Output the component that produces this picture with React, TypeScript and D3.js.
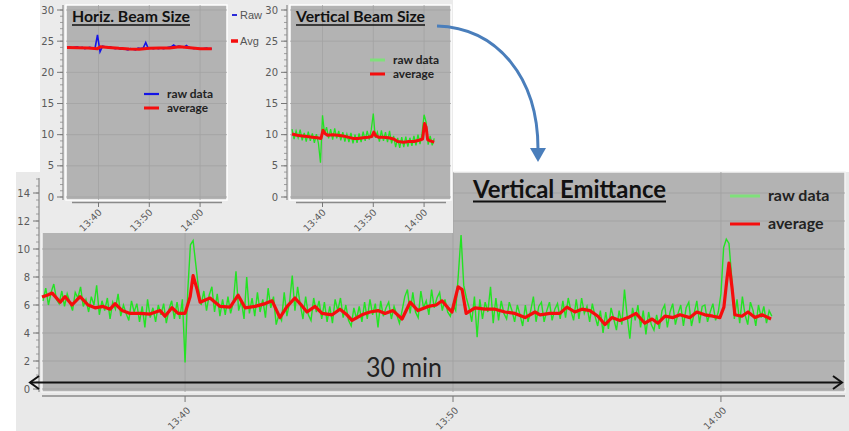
import React, { useEffect, useRef } from "react";
import * as d3 from "d3";

// times are minutes after 13:00
const timeTicks = [40, 50, 60];
const timeTickLabels = ["13:40", "13:50", "14:00"];
const emitYTicks = [0, 2, 4, 6, 8, 10, 12, 14];
const beamYTicks = [0, 5, 10, 15, 20, 25, 30];

// vertical emittance, raw samples every 0.1 min from 13:34.7
const emitRawStart = 34.7;
const emitRawStep = 0.1;
const emitRaw = [
  6.3, 7.2, 6.0, 6.9, 7.5, 6.4, 6.1, 7.0, 5.9, 6.8,
  6.2, 5.6, 6.9, 6.5, 7.3, 5.9, 6.4, 5.5, 6.6, 6.0,
  7.4, 5.3, 6.3, 5.6, 6.5, 5.0, 6.2, 5.7, 6.8, 5.2,
  6.0, 5.4, 4.9, 6.3, 5.5, 6.1, 4.8, 5.9, 4.4, 6.4,
  5.1, 5.8, 4.8, 6.0, 5.3, 6.1, 4.7, 5.7, 6.3, 5.0,
  6.2, 5.0, 6.4, 1.9, 7.0, 10.3, 10.6, 8.9, 7.2, 6.0,
  7.0, 5.6, 6.7, 7.3, 5.5, 6.8, 5.2, 6.4, 5.3, 6.6,
  5.4, 6.2, 8.4, 5.6, 6.3, 5.0, 8.0, 5.4, 6.5, 5.2,
  6.9, 5.5, 6.4, 5.1, 7.2, 5.8, 6.6, 4.6, 5.3, 4.9,
  6.9, 5.2, 6.2, 8.1, 5.6, 7.3, 6.0, 5.0, 6.6, 5.3,
  4.9, 6.5, 5.5, 6.3, 5.0, 6.2, 4.8, 5.9, 4.7, 6.4,
  5.6, 6.5, 5.1, 6.0, 4.9, 4.5, 5.8, 5.0, 5.9, 4.8,
  6.2, 5.0, 6.4, 5.3, 6.1, 4.4, 6.3, 5.2, 5.8, 6.2,
  5.0, 5.9, 5.3, 4.7, 5.6, 6.6, 7.1, 5.4, 6.9, 5.5,
  5.1, 7.0, 5.8, 6.3, 5.3, 7.1, 5.8, 6.5, 6.9, 5.6,
  6.4, 5.5, 5.2, 6.0, 5.6, 8.2, 11.0, 7.4, 6.5, 5.8,
  4.8, 6.6, 3.7, 6.4, 5.0, 6.2, 5.5, 7.3, 4.7, 6.5,
  4.9, 6.3, 5.4, 5.0, 6.2, 5.6, 4.8, 6.0, 5.3, 4.5,
  6.0, 4.8, 5.6, 6.6, 4.8, 5.9, 6.2, 4.8, 5.6, 6.2,
  4.9, 5.7, 6.1, 5.0, 6.3, 5.1, 6.5, 5.6, 4.9, 6.4,
  5.0, 6.5, 5.4, 5.9, 4.8, 6.1, 5.2, 4.5, 5.6, 4.0,
  5.5, 4.3, 5.8, 5.0, 4.2, 5.6, 4.6, 7.1, 5.2, 3.6,
  5.8, 4.9, 6.0, 4.4, 5.6, 3.9, 5.5, 4.6, 4.2, 5.3,
  4.3, 5.6, 6.0, 4.4, 5.5, 6.1, 4.6, 5.4, 6.0, 4.5,
  5.8, 6.2, 4.5, 5.4, 6.3, 4.7, 5.9, 6.0, 4.8, 5.5,
  6.1, 4.9, 5.5, 6.8, 10.1, 10.7, 10.4, 8.0, 5.0, 6.4,
  4.7, 6.6, 5.3, 4.6, 6.2, 5.6, 4.5, 6.0, 5.1, 5.9,
  4.7, 5.6, 5.2,
];

const emitAvgTimes = [
  34.66, 34.85, 35.04, 35.34, 35.52, 35.78, 36.08, 36.38, 36.64, 36.94,
  37.2, 37.39, 37.65, 37.95, 38.32, 38.69, 39.07, 39.25, 39.51, 39.74,
  40.0, 40.19, 40.3, 40.45, 40.56, 40.93, 41.31, 41.68, 41.98, 42.24,
  42.61, 42.99, 43.25, 43.54, 43.81, 44.1, 44.29, 44.55, 44.85, 45.11,
  45.49, 45.78, 46.04, 46.23, 46.6, 46.9, 47.2, 47.46, 47.76, 48.1,
  48.4, 48.69, 49.07, 49.37, 49.59, 49.81, 49.96, 50.19, 50.34, 50.49,
  50.82, 51.19, 51.57, 51.94, 52.31, 52.69, 53.06, 53.25, 53.62, 53.99,
  54.25, 54.55, 54.81, 55.11, 55.41, 55.67, 55.93, 56.23, 56.53, 56.83,
  57.16, 57.43, 57.65, 57.91, 58.21, 58.47, 58.84, 59.1, 59.4, 59.7,
  59.96, 60.11, 60.22, 60.3, 60.41, 60.52, 60.78, 61.01, 61.27, 61.53,
  61.87,
];
const emitAvg = [
  6.57, 6.7, 6.85, 6.2, 6.6, 6.0, 6.6, 6.0, 5.8, 5.9,
  5.7, 6.1, 5.6, 5.4, 5.4, 5.35, 5.6, 5.2, 5.8, 5.4,
  5.4, 6.6, 8.1, 7.1, 6.2, 6.5, 5.9, 5.85, 6.7, 5.8,
  5.9, 6.1, 6.3, 5.1, 5.9, 6.5, 6.1, 5.5, 5.9, 5.4,
  5.3, 5.7, 5.3, 4.9, 5.3, 5.5, 5.6, 5.4, 5.6, 5.0,
  6.2, 5.6, 5.9, 6.0, 6.3, 5.8, 5.5, 7.3, 7.1, 5.4,
  5.8, 5.7, 5.7, 5.5, 5.4, 5.1, 5.5, 5.3, 5.4, 5.4,
  5.85, 5.5, 5.7, 5.6, 5.2, 4.6, 5.1, 4.9, 5.1, 5.4,
  4.7, 5.0, 4.7, 5.2, 5.1, 5.3, 5.1, 5.5, 5.3, 5.2,
  5.1, 5.85, 7.8, 9.0, 7.3, 5.3, 5.2, 5.5, 5.1, 5.3,
  5.0,
];

// horizontal beam size, raw every 0.5 min from 13:33.8
const horizRawStart = 33.8;
const horizRawStep = 0.5;
const horizRaw = [
  24.0, 24.1, 23.9, 24.0, 24.1, 23.9, 24.0, 23.8, 23.9, 24.0,
  23.9, 23.8, 26.0, 23.3, 24.2, 24.1, 24.0, 24.1, 23.9, 23.8,
  23.9, 23.7, 23.8, 23.7, 23.6, 23.8, 23.7, 23.6, 23.9, 23.8,
  23.9, 24.8, 23.8, 23.9, 23.8, 23.9, 23.8, 23.9, 23.8, 23.9,
  24.0, 24.1, 24.4, 24.1, 24.2, 24.1, 24.0, 24.3, 24.0, 23.9,
  23.8, 23.9, 23.8, 23.7, 23.8, 23.9, 23.7, 23.8,
];
const horizAvgTimes = [33.8, 36, 38, 39.8, 40.4, 42, 44, 46, 48, 50, 52, 54, 56, 58, 60, 62.3];
const horizAvg = [24.0, 23.95, 23.9, 23.8, 24.1, 24.0, 23.85, 23.75, 23.7, 23.85, 23.9, 23.9, 24.1, 23.95, 23.8, 23.8];

// vertical beam size, raw every 0.4 min from 13:34.0
const vertRawStart = 34.0;
const vertRawStep = 0.4;
const vertRaw = [
  10.9, 9.3, 10.6, 9.5, 10.8, 9.1, 10.3, 8.9, 10.5, 9.0,
  10.2, 8.7, 10.1, 8.6, 5.5, 13.1, 10.2, 11.2, 9.4, 10.9,
  9.2, 11.0, 9.4, 10.6, 9.1, 10.4, 8.9, 10.1, 8.8, 10.3,
  8.6, 10.0, 8.7, 10.2, 8.8, 10.5, 9.0, 10.6, 9.2, 10.8,
  13.4, 9.5, 10.4, 8.9, 10.7, 9.0, 10.4, 8.8, 10.6, 8.6,
  9.8, 8.0, 9.5, 7.9, 9.6, 8.0, 9.7, 8.1, 9.5, 8.2,
  9.8, 8.3, 10.0, 8.5, 10.2, 13.2, 12.0, 8.4, 9.8, 8.3,
  9.4,
];
const vertAvgTimes = [
  34.0, 35.0, 36.0, 37.0, 38.0, 39.0, 39.7, 40.1, 40.5, 41.0,
  42.0, 43.0, 44.0, 45.0, 46.0, 47.0, 48.0, 49.0, 49.7, 50.1,
  50.5, 51.0, 52.0, 53.0, 54.0, 54.8, 56.0, 57.0, 58.0, 59.0,
  59.7, 60.1, 60.4, 60.7, 61.2, 62.0,
];
const vertAvg = [
  10.1, 9.9, 9.8, 9.7, 9.6, 9.5, 9.4, 10.7, 10.2, 9.9,
  10.0, 9.9, 9.8, 9.6, 9.4, 9.4, 9.5, 9.6, 9.7, 10.4,
  9.8, 9.6, 9.6, 9.5, 9.3, 8.9, 8.8, 8.9, 8.9, 9.1,
  9.3, 11.8, 11.2, 9.2, 9.0, 8.8,
];

const PLOT_BG = "#b3b3b3";
const PANEL_BG = "#e9e9e9";
const GRID = "#a2a2a2";
const GREEN = "#22e322";
const LEGEND_GREEN = "#7fe07a";
const RED = "#f50d0d";
const BLUE = "#1414e6";
const AXIS_TEXT = "#5a5a5a";
const TICK_FONT = "'DejaVu Sans', sans-serif";
const TITLE_FONT = "Lato, 'Open Sans', sans-serif";

type Pt = [number, number];

function drawInset(root: any, o: any) {
  const g = root.append("g");
  const x = d3.scaleLinear().domain([33.6, 65.3]).range([o.left, o.right]);
  const y = d3.scaleLinear().domain([0, 30]).range([197, 10]);

  g.append("rect")
    .attr("x", o.left).attr("y", 5)
    .attr("width", o.right - o.left).attr("height", 195)
    .attr("fill", PLOT_BG).attr("stroke", "#fff").attr("stroke-width", 1.5);

  g.selectAll(".hg").data(beamYTicks).enter().append("line")
    .attr("x1", o.left).attr("x2", o.right)
    .attr("y1", (d) => y(d)).attr("y2", (d) => y(d))
    .attr("stroke", GRID).attr("stroke-width", 0.8);
  g.selectAll(".vg").data(timeTicks).enter().append("line")
    .attr("x1", (d) => x(d)).attr("x2", (d) => x(d))
    .attr("y1", 5).attr("y2", 200)
    .attr("stroke", GRID).attr("stroke-width", 0.8);

  const line = d3.line<Pt>().x((d) => x(d[0])).y((d) => y(d[1]));
  const raw: Pt[] = o.raw.map((v: number, i: number) => [o.rawStart + i * o.rawStep, v]);
  const avg: Pt[] = o.avgTimes.map((t: number, i: number) => [t, o.avg[i]]);
  g.append("path").attr("d", line(raw)).attr("fill", "none")
    .attr("stroke", o.rawColor).attr("stroke-width", o.rawWidth);
  g.append("path").attr("d", line(avg)).attr("fill", "none")
    .attr("stroke", RED).attr("stroke-width", 3).attr("stroke-linejoin", "round");

  // y axis
  const ax = o.left - 3;
  g.append("line").attr("x1", ax).attr("x2", ax).attr("y1", 5).attr("y2", 200)
    .attr("stroke", "#8a8a8a").attr("stroke-width", 1.2);
  g.selectAll(".mn").data(d3.range(0, 31, 1)).enter().append("line")
    .attr("x1", ax - 3).attr("x2", ax)
    .attr("y1", (d) => y(d)).attr("y2", (d) => y(d))
    .attr("stroke", "#8a8a8a").attr("stroke-width", 0.8);
  g.selectAll(".mj").data(beamYTicks).enter().append("line")
    .attr("x1", ax - 6).attr("x2", ax)
    .attr("y1", (d) => y(d)).attr("y2", (d) => y(d))
    .attr("stroke", "#777").attr("stroke-width", 1);
  g.selectAll(".yl").data(beamYTicks).enter().append("text")
    .attr("x", ax - 9).attr("y", (d) => y(d) + 3.5)
    .attr("text-anchor", "end").attr("font-size", 10).attr("font-family", TICK_FONT)
    .attr("fill", AXIS_TEXT).text((d) => d);

  // x axis
  g.append("line").attr("x1", o.left + 6).attr("x2", o.right - 5).attr("y1", 202.5).attr("y2", 202.5)
    .attr("stroke", "#8a8a8a").attr("stroke-width", 1.5);
  g.selectAll(".xt").data(timeTicks).enter().append("line")
    .attr("x1", (d) => x(d)).attr("x2", (d) => x(d)).attr("y1", 202).attr("y2", 207)
    .attr("stroke", "#777");
  g.selectAll(".xl").data(timeTicks).enter().append("text")
    .attr("transform", (d) => `translate(${x(d) + 4},${213}) rotate(-45)`)
    .attr("text-anchor", "end").attr("font-size", 9.5).attr("font-family", TICK_FONT)
    .attr("fill", AXIS_TEXT).text((d, i) => timeTickLabels[i]);

  // title
  g.append("text").attr("x", o.titleX).attr("y", 22)
    .attr("font-size", 16).attr("font-weight", "bold").attr("font-family", TITLE_FONT)
    .attr("fill", "#111").attr("textLength", o.titleW).attr("lengthAdjust", "spacingAndGlyphs")
    .text(o.title);
  g.append("line").attr("x1", o.titleX).attr("x2", o.titleX + o.titleW).attr("y1", 25).attr("y2", 25)
    .attr("stroke", "#111").attr("stroke-width", 1.6);

  // legend
  const lx = o.legendX;
  g.append("line").attr("x1", lx).attr("x2", lx + 15).attr("y1", o.legendY).attr("y2", o.legendY)
    .attr("stroke", o.legendRawColor).attr("stroke-width", o.legendRawWidth);
  g.append("line").attr("x1", lx).attr("x2", lx + 15).attr("y1", o.legendY + 14).attr("y2", o.legendY + 14)
    .attr("stroke", RED).attr("stroke-width", 3);
  g.append("text").attr("x", lx + 23).attr("y", o.legendY + 4)
    .attr("font-size", 11.5).attr("font-weight", "bold").attr("font-family", TITLE_FONT)
    .attr("fill", "#222").attr("textLength", 46).attr("lengthAdjust", "spacingAndGlyphs").text("raw data");
  g.append("text").attr("x", lx + 23).attr("y", o.legendY + 18)
    .attr("font-size", 11.5).attr("font-weight", "bold").attr("font-family", TITLE_FONT)
    .attr("fill", "#222").attr("textLength", 41).attr("lengthAdjust", "spacingAndGlyphs").text("average");
}

export default function App() {
  const ref = useRef<SVGSVGElement>(null);

  useEffect(() => {
    const svg = d3.select(ref.current);
    svg.selectAll("*").remove();

    const W = 849;
    const plotL = 42, plotR = 845, plotT = 172, plotB = 392;
    const x = d3.scaleLinear().domain([34.66, 64.63]).range([plotL, plotR]);
    const y = d3.scaleLinear().domain([0, 14]).range([389, 193]);

    svg.append("rect").attr("width", W).attr("height", 431).attr("fill", "#fff");
    // main panel
    svg.append("rect").attr("x", 16).attr("y", 172).attr("width", W - 16).attr("height", 259).attr("fill", PANEL_BG);
    svg.append("rect").attr("x", plotL).attr("y", plotT).attr("width", plotR - plotL).attr("height", plotB - plotT)
      .attr("fill", PLOT_BG).attr("stroke", "#f4f4f4").attr("stroke-width", 1.5);

    svg.selectAll(".hg").data(emitYTicks).enter().append("line")
      .attr("x1", plotL).attr("x2", plotR)
      .attr("y1", (d) => y(d)).attr("y2", (d) => y(d))
      .attr("stroke", GRID).attr("stroke-width", 0.9);
    svg.selectAll(".vg").data(timeTicks).enter().append("line")
      .attr("x1", (d) => x(d)).attr("x2", (d) => x(d))
      .attr("y1", plotT).attr("y2", plotB)
      .attr("stroke", GRID).attr("stroke-width", 0.9);

    const line = d3.line<Pt>().x((d) => x(d[0])).y((d) => y(d[1]));
    const raw: Pt[] = emitRaw.map((v, i) => [emitRawStart + i * emitRawStep, v]);
    const avg: Pt[] = emitAvgTimes.map((t, i) => [t, emitAvg[i]]);
    svg.append("path").attr("d", line(raw)).attr("fill", "none")
      .attr("stroke", GREEN).attr("stroke-width", 1.4);
    svg.append("path").attr("d", line(avg)).attr("fill", "none")
      .attr("stroke", RED).attr("stroke-width", 3.2).attr("stroke-linejoin", "round");

    // main y axis
    const ax = 39;
    svg.append("line").attr("x1", ax).attr("x2", ax).attr("y1", 178).attr("y2", plotB)
      .attr("stroke", "#8a8a8a").attr("stroke-width", 1.2);
    svg.selectAll(".mn").data(d3.range(0, 15.01, 0.5)).enter().append("line")
      .attr("x1", ax - 3).attr("x2", ax)
      .attr("y1", (d) => y(d)).attr("y2", (d) => y(d))
      .attr("stroke", "#8a8a8a").attr("stroke-width", 0.8);
    svg.selectAll(".mj").data(emitYTicks).enter().append("line")
      .attr("x1", ax - 6).attr("x2", ax)
      .attr("y1", (d) => y(d)).attr("y2", (d) => y(d))
      .attr("stroke", "#777");
    svg.selectAll(".yl").data(emitYTicks).enter().append("text")
      .attr("x", ax - 9).attr("y", (d) => y(d) + 3.5)
      .attr("text-anchor", "end").attr("font-size", 10).attr("font-family", TICK_FONT)
      .attr("fill", AXIS_TEXT).text((d) => d);

    // main x axis
    svg.append("line").attr("x1", plotL).attr("x2", plotR).attr("y1", 396).attr("y2", 396)
      .attr("stroke", "#8a8a8a").attr("stroke-width", 1.5);
    svg.selectAll(".xt").data(timeTicks).enter().append("line")
      .attr("x1", (d) => x(d)).attr("x2", (d) => x(d)).attr("y1", 396).attr("y2", 402)
      .attr("stroke", "#777");
    svg.selectAll(".xl").data(timeTicks).enter().append("text")
      .attr("transform", (d) => `translate(${x(d) + 6},${411}) rotate(-45)`)
      .attr("text-anchor", "end").attr("font-size", 9.5).attr("font-family", TICK_FONT)
      .attr("fill", AXIS_TEXT).text((d, i) => timeTickLabels[i]);

    // inset box over the top-left of the main plot
    svg.append("rect").attr("x", 40).attr("y", 0).attr("width", 413).attr("height", 233).attr("fill", "#ebebeb");

    drawInset(svg, {
      left: 66, right: 227,
      raw: horizRaw, rawStart: horizRawStart, rawStep: horizRawStep, rawColor: BLUE, rawWidth: 1.6,
      avgTimes: horizAvgTimes, avg: horizAvg,
      title: "Horiz. Beam Size", titleX: 72, titleW: 118,
      legendX: 144, legendY: 94, legendRawColor: BLUE, legendRawWidth: 2.2,
    });
    drawInset(svg, {
      left: 290, right: 451,
      raw: vertRaw, rawStart: vertRawStart, rawStep: vertRawStep, rawColor: GREEN, rawWidth: 1.3,
      avgTimes: vertAvgTimes, avg: vertAvg,
      title: "Vertical Beam Size", titleX: 296, titleW: 129,
      legendX: 370, legendY: 60, legendRawColor: LEGEND_GREEN, legendRawWidth: 3,
    });

    // Raw / Avg key beside the first inset
    svg.append("line").attr("x1", 232).attr("x2", 237).attr("y1", 15).attr("y2", 15)
      .attr("stroke", "#2a2ad8").attr("stroke-width", 2);
    svg.append("line").attr("x1", 231).attr("x2", 238).attr("y1", 41).attr("y2", 41)
      .attr("stroke", RED).attr("stroke-width", 3.5);
    svg.append("text").attr("x", 240).attr("y", 19).attr("font-size", 11).attr("font-family", "'Liberation Sans Narrow', 'Liberation Sans', sans-serif")
      .attr("fill", "#555").text("Raw");
    svg.append("text").attr("x", 240).attr("y", 45).attr("font-size", 11).attr("font-family", "'Liberation Sans Narrow', 'Liberation Sans', sans-serif")
      .attr("fill", "#555").text("Avg");

    // main title and legend
    svg.append("text").attr("x", 473).attr("y", 197.5)
      .attr("font-size", 24).attr("font-weight", "bold").attr("font-family", TITLE_FONT)
      .attr("fill", "#111").attr("textLength", 193).attr("lengthAdjust", "spacingAndGlyphs")
      .text("Vertical Emittance");
    svg.append("line").attr("x1", 473).attr("x2", 666).attr("y1", 201.5).attr("y2", 201.5)
      .attr("stroke", "#111").attr("stroke-width", 2);

    svg.append("line").attr("x1", 730).attr("x2", 760).attr("y1", 196).attr("y2", 196)
      .attr("stroke", LEGEND_GREEN).attr("stroke-width", 3);
    svg.append("line").attr("x1", 730).attr("x2", 760).attr("y1", 224).attr("y2", 224)
      .attr("stroke", RED).attr("stroke-width", 3);
    svg.append("text").attr("x", 768).attr("y", 201).attr("font-size", 16).attr("font-weight", "bold")
      .attr("font-family", TITLE_FONT).attr("fill", "#222").text("raw data");
    svg.append("text").attr("x", 768).attr("y", 229).attr("font-size", 16).attr("font-weight", "bold")
      .attr("font-family", TITLE_FONT).attr("fill", "#222").text("average");

    // 30 min span arrow
    svg.append("text").attr("x", 366).attr("y", 377).attr("font-size", 27)
      .attr("font-family", TITLE_FONT).attr("fill", "#222")
      .attr("textLength", 76).attr("lengthAdjust", "spacingAndGlyphs").text("30 min");
    svg.append("line").attr("x1", 30).attr("x2", 842).attr("y1", 382.5).attr("y2", 382.5)
      .attr("stroke", "#111").attr("stroke-width", 2);
    svg.append("path").attr("d", "M39,376 L30,382.5 L39,389").attr("fill", "none")
      .attr("stroke", "#111").attr("stroke-width", 2);
    svg.append("path").attr("d", "M833,376 L842,382.5 L833,389").attr("fill", "none")
      .attr("stroke", "#111").attr("stroke-width", 2);

    // curved pointer from the vertical beam size title to the emittance plot
    svg.append("path").attr("d", "M437,26 C498,28 538,78 538,149").attr("fill", "none")
      .attr("stroke", "#4a7ebb").attr("stroke-width", 3);
    svg.append("path").attr("d", "M530,148 L546,148 L538,162 Z").attr("fill", "#4a7ebb");
  }, []);

  return (
    <svg ref={ref} width={849} height={431} style={{ position: "absolute", left: 0, top: 0 }} />
  );
}
